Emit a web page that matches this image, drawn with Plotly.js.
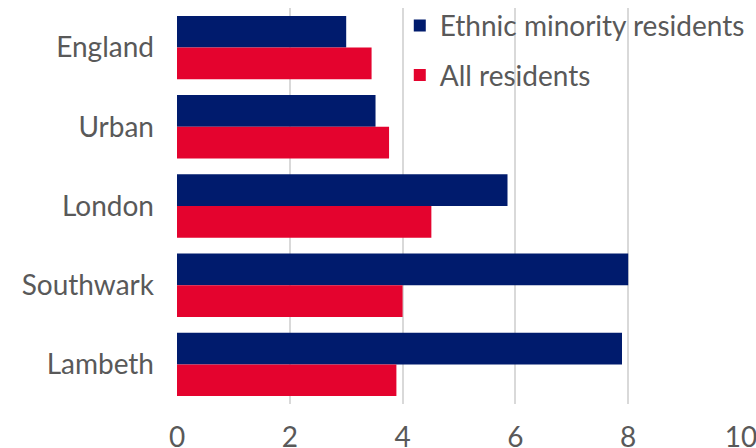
<!DOCTYPE html>
<html><head><meta charset="utf-8">
<script src="https://cdn.plot.ly/plotly-3.0.1.min.js"></script>
<style>html,body{margin:0;padding:0;background:#fff}#chart{width:756px;height:448px}</style>
</head><body><div id="chart"></div>
<script>
const categories = ['England','Urban','London','Southwark','Lambeth'];
const ethnicMinority = [3.0, 3.52, 5.86, 8.0, 7.89];
const allResidents = [3.45, 3.76, 4.51, 4.0, 3.89];
const seriesNames = ['Ethnic minority residents','All residents'];
const xTicks = [0,2,4,6,8,10];

const fontFam = 'Lato, "Noto Sans", sans-serif';
const grey = '#595959';
const fs = 28;
const traces = [
  {type:'bar', orientation:'h', y:categories, x:ethnicMinority, name:seriesNames[0],
   marker:{color:'#001B6D', line:{width:0}}, legendgroup:'a'},
  {type:'bar', orientation:'h', y:categories, x:allResidents, name:seriesNames[1],
   marker:{color:'#E4032E', line:{width:0}}, legendgroup:'b'}
];
const layout = {
  width:756, height:448,
  margin:{l:177, r:15, t:8, b:44, autoexpand:false},
  barmode:'group', bargap:0.2, bargroupgap:0,
  paper_bgcolor:'#fff', plot_bgcolor:'#fff',
  font:{family:fontFam, color:grey, size:fs},
  xaxis:{range:[0,10], tickvals:xTicks, ticktext:xTicks.map(String), showgrid:true,
    gridcolor:'#d9d9d9', gridwidth:2, zeroline:false, showline:false, ticks:'',
    tickfont:{size:fs, color:grey}, ticklabelstandoff:14, ticklabeloverflow:'allow',
    automargin:false, fixedrange:true},
  yaxis:{autorange:'reversed', showgrid:false, zeroline:false, showline:false, ticks:'',
    tickfont:{size:fs, color:grey}, ticklabelstandoff:22, automargin:false},
  showlegend:true,
  legend:{x:0.395, xanchor:'left', y:1.018, yanchor:'top', traceorder:'grouped', tracegroupgap:10,
    font:{size:fs, color:grey}, bgcolor:'rgba(0,0,0,0)', itemwidth:30}
};
Plotly.newPlot('chart', traces, layout, {displayModeBar:false, staticPlot:true});
</script></body></html>
